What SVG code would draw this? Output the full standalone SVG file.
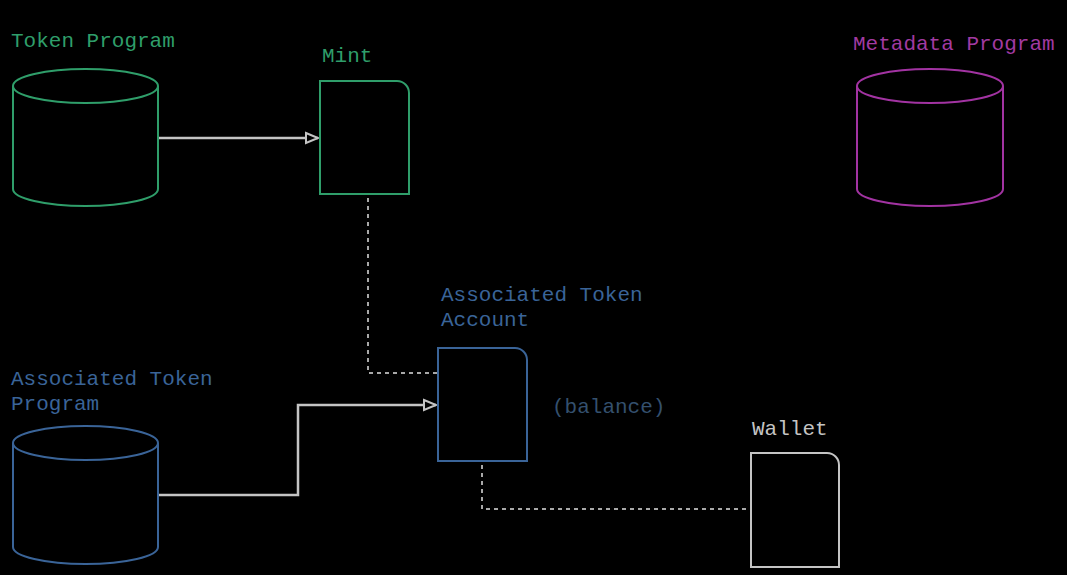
<svg xmlns="http://www.w3.org/2000/svg" width="1067" height="575" viewBox="0 0 1067 575">
<defs>
<style>
text{font-family:"Liberation Mono","DejaVu Sans Mono",monospace;font-size:21px}
.g{stroke:#2f9e6a;fill:none;stroke-width:2}
.m{stroke:#a233a2;fill:none;stroke-width:2}
.b{stroke:#3a6498;fill:none;stroke-width:2}
.w{stroke:#c4c4c4;fill:none;stroke-width:2}
.gt{fill:#2f9e6a}
.mt{fill:#a23aa2}
.bt{fill:#3a6498}
.wt{fill:#c4c4c4}
.solid{stroke:#c4c4c4;fill:none;stroke-width:2.5}
.dash{stroke:#a8a8a8;fill:none;stroke-width:2;stroke-dasharray:4 4}
</style>
<marker id="arr" markerUnits="userSpaceOnUse" markerWidth="16" markerHeight="14" refX="14" refY="7" orient="auto">
<path d="M2,2 L14,7 L2,12 Z" fill="#000" stroke="#c4c4c4" stroke-width="2"/>
</marker>
</defs>
<rect width="1067" height="575" fill="#000"/>
<g id="connectors">
<path class="solid" d="M158,138 H318" marker-end="url(#arr)"/>
<path class="solid" d="M158,495 H298 V405 H436" marker-end="url(#arr)"/>
<path class="dash" d="M368,198 V373 H438"/>
<path class="dash" d="M482,465 V509 H751"/>
</g>
<g id="token-program">
<text class="gt" x="11" y="47">Token Program</text>
<path class="g" d="M13,86 V189 A72.5,17 0 0 0 158,189 V86"/>
<ellipse class="g" cx="85.5" cy="86" rx="72.5" ry="17"/>
</g>
<g id="mint">
<text class="gt" x="322" y="62">Mint</text>
<path class="g" d="M320,81 H397 A12,12 0 0 1 409,93 V194 H320 Z"/>
</g>
<g id="metadata-program">
<text class="mt" x="853" y="50">Metadata Program</text>
<path class="m" d="M857,86 V189 A73,17 0 0 0 1003,189 V86"/>
<ellipse class="m" cx="930" cy="86" rx="73" ry="17"/>
</g>
<g id="associated-token-program">
<text class="bt" x="11" y="385">Associated Token</text>
<text class="bt" x="11" y="410">Program</text>
<path class="b" d="M13,443 V547 A72.5,17 0 0 0 158,547 V443"/>
<ellipse class="b" cx="85.5" cy="443" rx="72.5" ry="17"/>
</g>
<g id="associated-token-account">
<text class="bt" x="441" y="301">Associated Token</text>
<text class="bt" x="441" y="326">Account</text>
<path class="b" d="M438,348 H515 A12,12 0 0 1 527,360 V461 H438 Z"/>
<text x="552" y="413" fill="#34506e">(balance)</text>
</g>
<g id="wallet">
<text class="wt" x="752" y="435">Wallet</text>
<path class="w" d="M751,453 H827 A12,12 0 0 1 839,465 V567 H751 Z"/>
</g>
</svg>
